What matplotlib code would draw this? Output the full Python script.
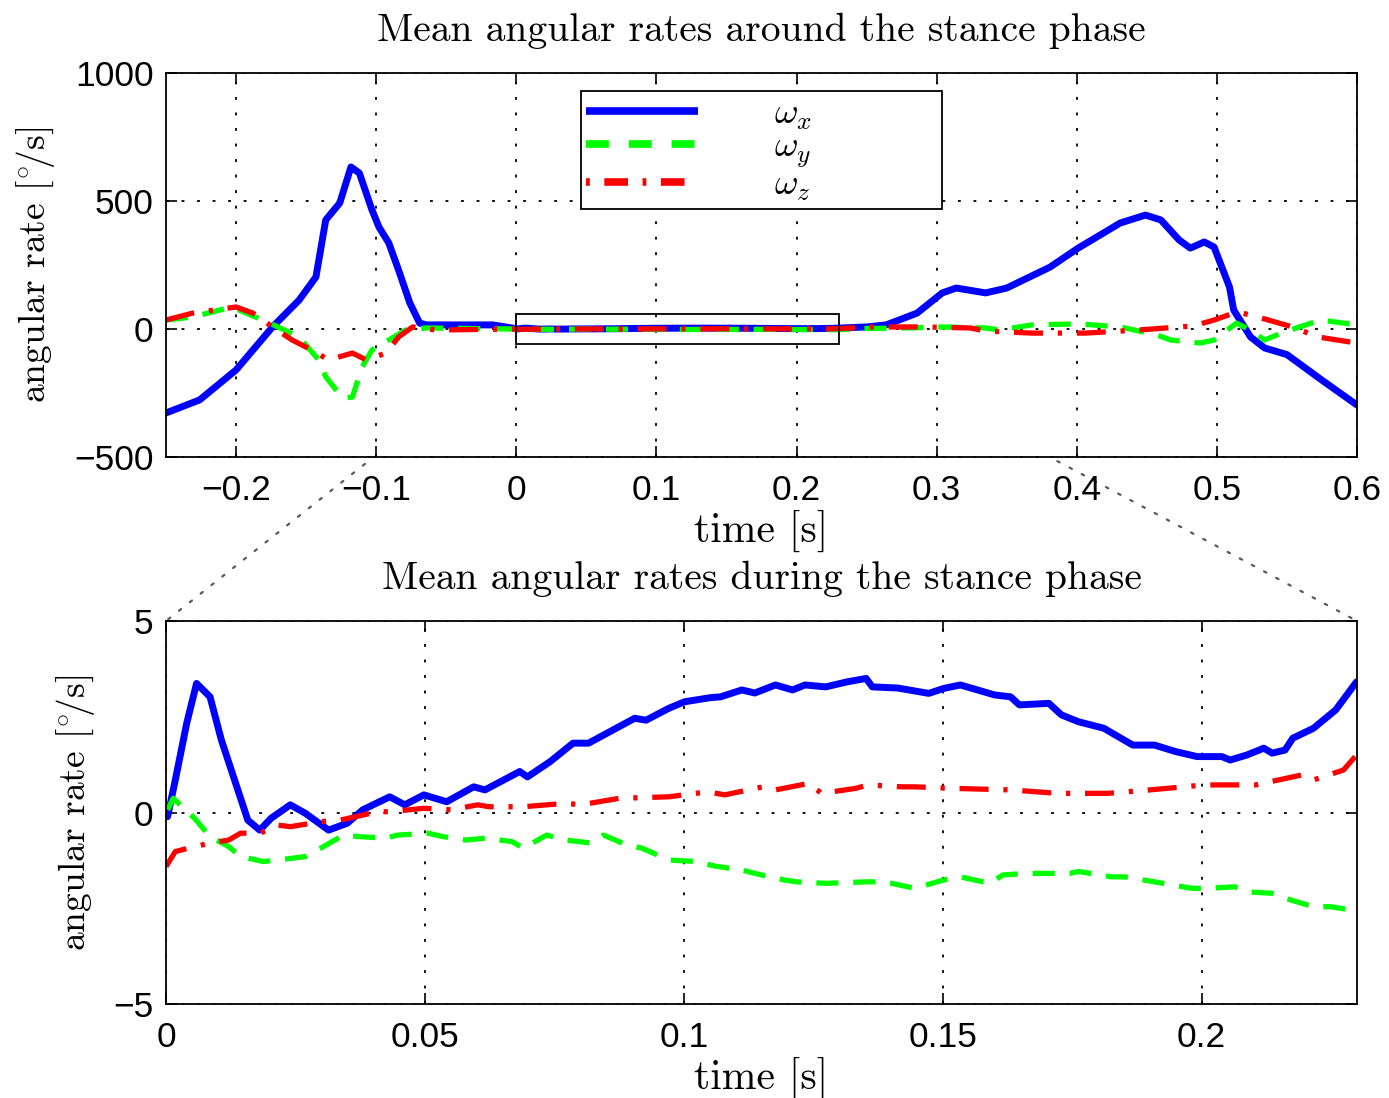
import matplotlib
matplotlib.use("Agg")
import matplotlib.pyplot as plt
from matplotlib.lines import Line2D
import numpy as np
from matplotlib.patches import Rectangle, ConnectionPatch

# ---------------- data ----------------
# stance phase (bottom panel), time [s], angular rate [deg/s]
wx_t = [0.0003, 0.0018, 0.0040, 0.0059, 0.0085, 0.0107, 0.0158, 0.0181, 0.0203, 0.0240,
        0.0269, 0.0314, 0.0350, 0.0380, 0.0432, 0.0461, 0.0498, 0.0542, 0.0594, 0.0616,
        0.0683, 0.0698, 0.0742, 0.0786, 0.0816, 0.0905, 0.0927, 0.0971, 0.1001, 0.1052,
        0.1071, 0.1112, 0.1137, 0.1177, 0.1210, 0.1234, 0.1274, 0.1315, 0.1352, 0.1364,
        0.1413, 0.1473, 0.1502, 0.1534, 0.1600, 0.1631, 0.1648, 0.1705, 0.1729, 0.1762,
        0.1811, 0.1867, 0.1909, 0.1950, 0.1991, 0.2039, 0.2055, 0.2087, 0.2120, 0.2136,
        0.2161, 0.2176, 0.2216, 0.2259, 0.2299]
wx_v = [-0.11, 0.85, 2.33, 3.37, 3.02, 1.89, -0.20, -0.46, -0.15, 0.20,
        -0.02, -0.46, -0.28, 0.07, 0.41, 0.20, 0.46, 0.28, 0.67, 0.59,
        1.07, 0.93, 1.33, 1.81, 1.81, 2.46, 2.41, 2.72, 2.89, 3.00,
        3.02, 3.20, 3.12, 3.33, 3.20, 3.33, 3.28, 3.41, 3.50, 3.28,
        3.25, 3.11, 3.24, 3.33, 3.07, 3.02, 2.81, 2.85, 2.55, 2.37,
        2.20, 1.76, 1.76, 1.59, 1.46, 1.46, 1.37, 1.50, 1.68, 1.55,
        1.63, 1.94, 2.20, 2.68, 3.41]

wy_t = [0.0003, 0.0014, 0.0055, 0.0085, 0.0121, 0.0144, 0.0188, 0.0217, 0.0269, 0.0299,
        0.0343, 0.0373, 0.0424, 0.0447, 0.0506, 0.0535, 0.0580, 0.0616, 0.0668, 0.0690,
        0.0735, 0.0772, 0.0823, 0.0845, 0.0890, 0.0919, 0.0971, 0.1023, 0.1060, 0.1112,
        0.1137, 0.1193, 0.1218, 0.1274, 0.1355, 0.1388, 0.1446, 0.1502, 0.1534, 0.1591,
        0.1616, 0.1664, 0.1689, 0.1745, 0.1762, 0.1826, 0.1851, 0.1909, 0.1981, 0.2013,
        0.2064, 0.2087, 0.2136, 0.2161, 0.2216, 0.2249, 0.2299]
wy_v = [0.07, 0.37, -0.15, -0.63, -0.89, -1.15, -1.28, -1.24, -1.15, -0.93,
        -0.59, -0.63, -0.67, -0.59, -0.54, -0.63, -0.72, -0.67, -0.76, -0.93,
        -0.59, -0.72, -0.80, -0.59, -0.85, -0.93, -1.24, -1.28, -1.40, -1.50,
        -1.59, -1.76, -1.81, -1.85, -1.81, -1.81, -1.98, -1.76, -1.68, -1.85,
        -1.63, -1.59, -1.59, -1.59, -1.54, -1.68, -1.68, -1.81, -1.98, -1.98,
        -1.94, -2.07, -2.11, -2.24, -2.46, -2.46, -2.57]

wz_t = [0.0000, 0.0018, 0.0055, 0.0085, 0.0121, 0.0144, 0.0181, 0.0217, 0.0240, 0.0299,
        0.0336, 0.0409, 0.0432, 0.0498, 0.0550, 0.0602, 0.0624, 0.0690, 0.0772, 0.0801,
        0.0875, 0.0971, 0.1046, 0.1079, 0.1153, 0.1177, 0.1241, 0.1266, 0.1332, 0.1355,
        0.1421, 0.1446, 0.1519, 0.1631, 0.1722, 0.1819, 0.1900, 0.2006, 0.2104, 0.2193,
        0.2216, 0.2274, 0.2299]
wz_v = [-1.41, -1.02, -0.89, -0.80, -0.72, -0.54, -0.54, -0.33, -0.37, -0.24,
        -0.20, 0.02, 0.02, 0.11, 0.07, 0.20, 0.15, 0.15, 0.24, 0.20,
        0.37, 0.41, 0.54, 0.46, 0.67, 0.59, 0.76, 0.50, 0.63, 0.72,
        0.67, 0.67, 0.63, 0.59, 0.50, 0.50, 0.59, 0.72, 0.72, 0.98,
        0.85, 1.11, 1.50]

# around the stance phase (top panel): before and after the stance segment
wx_pre_t = [-0.250, -0.226, -0.200, -0.174, -0.155, -0.143, -0.136, -0.126, -0.118, -0.112,
            -0.103, -0.098, -0.091, -0.084, -0.076, -0.069, -0.064, -0.017, -0.003]
wx_pre_v = [-328, -277, -160, 8, 113, 203, 426, 492, 633, 609,
            465, 398, 336, 230, 102, 23, 16, 16, 4]
wx_post_t = [0.250, 0.264, 0.286, 0.304, 0.314, 0.335, 0.350, 0.381, 0.401, 0.431,
             0.449, 0.460, 0.473, 0.481, 0.491, 0.498, 0.509, 0.512, 0.524, 0.534,
             0.550, 0.575, 0.600]
wx_post_v = [8, 16, 62, 141, 160, 141, 160, 242, 316, 414,
             445, 426, 348, 316, 340, 320, 164, 74, -31, -74,
             -100, -200, -297]

wy_pre_t = [-0.250, -0.231, -0.203, -0.176, -0.155, -0.141, -0.136, -0.124, -0.117, -0.110,
            -0.103, -0.091, -0.079, -0.064, -0.003]
wy_pre_v = [35, 47, 86, 23, -31, -121, -187, -270, -266, -148,
            -82, -43, -4, 4, 0]
wy_post_t = [0.250, 0.279, 0.304, 0.335, 0.345, 0.368, 0.401, 0.431, 0.457, 0.467,
             0.488, 0.498, 0.514, 0.524, 0.534, 0.546, 0.559, 0.574, 0.585, 0.600]
wy_post_v = [2, 4, 8, 4, -4, 16, 20, 8, -23, -43,
             -55, -43, 23, -4, -43, -16, 8, 35, 27, 16]

wz_pre_t = [-0.250, -0.231, -0.200, -0.188, -0.174, -0.160, -0.146, -0.134, -0.117, -0.107,
            -0.093, -0.084, -0.074, -0.057, -0.003]
wz_pre_v = [35, 62, 86, 62, 8, -43, -82, -121, -94, -121,
            -94, -31, 8, -4, 0]
wz_post_t = [0.253, 0.291, 0.324, 0.335, 0.368, 0.406, 0.444, 0.483, 0.498, 0.514,
             0.524, 0.554, 0.572, 0.600]
wz_post_v = [8, 8, 4, -8, -16, -16, -4, 12, 35, 66,
             55, 8, -31, -55]

series_labels = [r'$\omega_x$', r'$\omega_y$', r'$\omega_z$']
top_xticks = [-0.2, -0.1, 0, 0.1, 0.2, 0.3, 0.4, 0.5, 0.6]
top_yticks = [-500, 0, 500, 1000]
bot_xticks = [0, 0.05, 0.1, 0.15, 0.2]
bot_yticks = [-5, 0, 5]
zoom_x = [0.0, 0.23]
zoom_y = [-60, 60]

# ---------------- style ----------------
plt.rcParams['mathtext.fontset'] = 'cm'
plt.rcParams['axes.unicode_minus'] = True
tick_font = ['Liberation Sans', 'DejaVu Sans']
serif_font = ['cmr10', 'DejaVu Serif']

BLUE, GREEN, RED = '#0000ff', '#00ff00', '#ff0000'
blue_kw = dict(color=BLUE, lw=5.0, solid_capstyle='round', solid_joinstyle='round')
green_kw = dict(color=GREEN, lw=3.8, dashes=(4.2, 2.8))
red_kw = dict(color=RED, lw=3.8, dashes=(5.5, 2.8, 0.8, 2.8))

fig = plt.figure(figsize=(13.89, 10.98), dpi=100)
ax1 = fig.add_axes([166/1389, 1-457/1098, 1191/1389, 384/1098])
ax2 = fig.add_axes([166/1389, 1-1004/1098, 1191/1389, 383/1098])


def style(ax, xt, yt, xlim, ylim):
    ax.set_xlim(*xlim)
    ax.set_ylim(*ylim)
    ax.set_xticks(xt)
    ax.set_yticks(yt)
    ax.tick_params(direction='in', top=True, right=True, length=8, width=1.2,
                   labelsize=25.5, pad=9)
    ax.tick_params(axis='x', pad=12)
    ax.grid(True, color='black', lw=1.3, linestyle=(0, (1.6, 7)))
    for sp in ax.spines.values():
        sp.set_linewidth(1.3)
        sp.set_color('black')


TITLE_FS = 28.5
XLAB_FS = 30
YLAB_FS = 27
YLABEL = r'angular rate $\mathrm{[{}^{\circ}\!/s]}$'

# top panel
tx = np.concatenate([wx_pre_t, wx_t, wx_post_t])
vx = np.concatenate([wx_pre_v, wx_v, wx_post_v])
ty = np.concatenate([wy_pre_t, wy_t, wy_post_t])
vy = np.concatenate([wy_pre_v, wy_v, wy_post_v])
tz = np.concatenate([wz_pre_t, wz_t, wz_post_t])
vz = np.concatenate([wz_pre_v, wz_v, wz_post_v])

ax1.plot(tx, vx, **blue_kw)
ax1.plot(ty, vy, **green_kw)
ax1.plot(tz, vz, **red_kw)
style(ax1, top_xticks, top_yticks, (-0.25, 0.6), (-500, 1000))
ax1.set_xticklabels(['\u22120.2', '\u22120.1', '0', '0.1', '0.2', '0.3', '0.4', '0.5', '0.6'],
                    family=tick_font)
ax1.set_yticklabels(['\u2212500', '0', '500', '1000'], family=tick_font)
ax1.set_title('Mean angular rates around the stance phase', family=serif_font,
              fontsize=TITLE_FS, pad=23)
ax1.set_xlabel('time [s]', family=serif_font, fontsize=XLAB_FS, labelpad=2)
ax1.set_ylabel(YLABEL, family=serif_font, fontsize=YLAB_FS, labelpad=12)

ax1.add_patch(Rectangle((zoom_x[0], zoom_y[0]), zoom_x[1]-zoom_x[0], zoom_y[1]-zoom_y[0],
                        fill=False, ec='black', lw=1.3, zorder=5))

# legend proxies (legend samples are drawn thicker than the data lines)
h1 = Line2D([], [], color=BLUE, lw=5.5, solid_capstyle='butt')
h2 = Line2D([], [], color=GREEN, lw=5.5, dashes=(3.0, 2.6))
h3 = Line2D([], [], color=RED, lw=5.5, dashes=(0.5, 1.9, 3.1, 1.9))
leg = ax1.legend(handles=[h1, h2, h3], labels=series_labels, loc='upper left',
                 bbox_to_anchor=(0.3484, 0.641, 0.3032, 0.312), mode='expand',
                 fontsize=26, handlelength=3.1, handletextpad=2.1, labelspacing=-0.05,
                 borderaxespad=0, borderpad=0.15, fancybox=False, framealpha=1,
                 edgecolor='black')
leg.get_frame().set_linewidth(1.3)

# bottom panel
ax2.plot(wx_t, wx_v, **blue_kw)
ax2.plot(wy_t, wy_v, **green_kw)
ax2.plot(wz_t, wz_v, **red_kw)
style(ax2, bot_xticks, bot_yticks, (0, 0.23), (-5, 5))
ax2.set_xticklabels(['0', '0.05', '0.1', '0.15', '0.2'], family=tick_font)
ax2.set_yticklabels(['\u22125', '0', '5'], family=tick_font)
ax2.set_title('Mean angular rates during the stance phase', family=serif_font,
              fontsize=TITLE_FS, pad=23)
ax2.set_xlabel('time [s]', family=serif_font, fontsize=XLAB_FS, labelpad=2)
ax2.set_ylabel(YLABEL, family=serif_font, fontsize=YLAB_FS, labelpad=12)

# dotted zoom connectors
for xa in zoom_x:
    con = ConnectionPatch(xyA=(xa, zoom_y[0]), coordsA=ax1.transData,
                          xyB=(xa, 5), coordsB=ax2.transData,
                          color='0.35', lw=1.6, linestyle=(0, (1.2, 5)), zorder=0)
    fig.add_artist(con)

fig.savefig('out.png', dpi=100)
